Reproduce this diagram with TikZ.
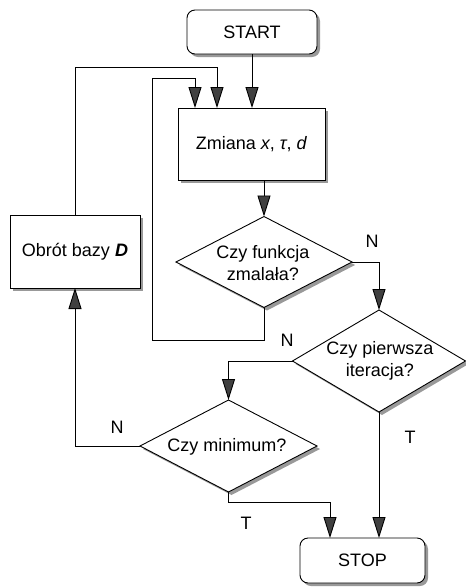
\documentclass[tikz,border=0pt]{standalone}
\usepackage{fontspec}
\setmainfont{Liberation Sans}
\usetikzlibrary{arrows.meta,shapes.geometric,shadows}
\begin{document}
\begin{tikzpicture}[x=1pt,y=-1pt,
  every node/.style={font=\fontsize{18}{22}\selectfont},
  base/.style={draw, line width=0.9pt, outer sep=0pt, fill=white,
    drop shadow={shadow xshift=3pt, shadow yshift=-3pt, fill=black!40, opacity=1}},
  term/.style={base, rectangle, rounded corners=8pt},
  proc/.style={base, rectangle},
  dec/.style={base, diamond, inner sep=0pt},
  txt/.style={align=center, inner sep=0pt},
  lbl/.style={inner sep=0pt},
  arr/.style={line width=0.9pt, -{Triangle[length=21pt,width=13pt,fill=black!75]}},
  line/.style={line width=0.9pt}]
\useasboundingbox (0,0) rectangle (466,587);

% blocks
\node[term, minimum width=130pt, minimum height=44pt] (start) at (252,32) {START};
\node[proc, minimum width=147pt, minimum height=72pt] (zm) at (251.5,144)
  {Zmiana \textit{x}, \textit{τ}, \textit{d}};
\node[proc, minimum width=130pt, minimum height=73pt] (obr) at (75,251.5)
  {Obrót bazy \textbf{\textit{D}}};
\node[dec, minimum width=176pt, minimum height=91pt] (d1) at (264,262) {};
\node[txt] (d1t) at (263,263) {Czy funkcja\\zmalała?};
\node[dec, minimum width=173pt, minimum height=102pt] (d2) at (379,361) {};
\node[txt] (d2t) at (380,361) {Czy pierwsza\\iteracja?};
\node[dec, minimum width=177pt, minimum height=92pt] (d3) at (228.5,446) {};
\node[txt] (d3t) at (227,447) {Czy minimum?};
\node[term, minimum width=125pt, minimum height=45pt] (stop) at (362.5,560.5) {STOP};

% bend points of the connectors
\coordinate (c1) at (217,67);
\coordinate (c2) at (152,340);
\coordinate (c3) at (195,78);
\coordinate (c4) at (330,502);

% connectors
\draw[arr] (start.south) -- (start.south |- zm.north);
\draw[arr] (obr.north) |- (c1) -- (c1 |- zm.north);
\draw[arr] (d1.south) |- (c2) |- (c3) -- (c3 |- zm.north);
\draw[arr] (zm.south -| d1.north) -- (d1.north);
\draw[arr] (d1.east) -| (d2.north);
\draw[arr] (d2.west) -| (d3.north);
\draw[arr] (d2.south) -- (d2.south |- stop.north);
\draw[arr] (d3.west) -| (obr.south);
\draw[arr] (d3.south) |- (c4) -- (c4 |- stop.north);

% branch labels
\node[lbl] (n1) at (372,241) {N};
\node[lbl] (n2) at (287,340) {N};
\node[lbl] (n3) at (117,427) {N};
\node[lbl] (t1) at (410,437) {T};
\node[lbl] (t2) at (246,523) {T};
\end{tikzpicture}
\end{document}
